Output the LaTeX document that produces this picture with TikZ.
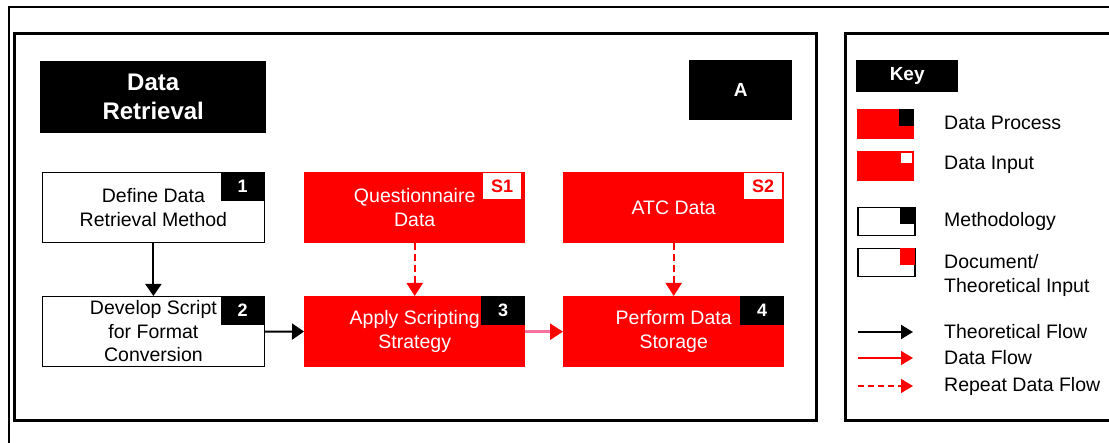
\documentclass[tikz,border=0pt]{standalone}
\usepackage{fontspec}
\setmainfont{Liberation Sans}
\usetikzlibrary{arrows.meta}

\definecolor{procred}{RGB}{255,0,0}
\definecolor{flowpink}{RGB}{250,110,160}

\tikzset{
	panel/.style={draw, line width=3pt},
	txt/.style={font=\fontsize{19.5}{23.5}\selectfont, align=center},
	procbox/.style={txt, fill=procred, text=white, minimum width=221pt, minimum height=71pt, inner sep=0pt, anchor=north west},
	methbox/.style={txt, draw, thick, fill=white, minimum width=222pt, minimum height=70pt, inner sep=0pt, anchor=north west},
	badge/.style={fill=black, text=white, font=\fontsize{18}{20}\selectfont\bfseries, minimum width=44pt, minimum height=29pt, inner sep=0pt, anchor=north east},
	inbadge/.style={fill=white, text=procred, font=\fontsize{18}{20}\selectfont\bfseries, minimum width=38pt, minimum height=26pt, inner sep=0pt, anchor=north east},
	titlebox/.style={fill=black, text=white, font=\fontsize{24}{29}\selectfont\bfseries, align=center, inner sep=0pt, anchor=north west},
	keytxt/.style={font=\fontsize{19.5}{24}\selectfont, align=left, anchor=west, inner sep=0pt},
	swatch/.style={minimum width=57pt, minimum height=30pt, inner sep=0pt, anchor=north west},
	corner/.style={minimum width=15pt, minimum height=17pt, inner sep=0pt, anchor=north east},
	theoflow/.style={line width=2pt, -{Triangle[length=12pt,width=16pt]}},
	dataflow/.style={line width=2.5pt, flowpink, -{Triangle[length=13pt,width=16pt,color=procred]}},
	repeatflow/.style={line width=2pt, procred, dash pattern=on 7pt off 4pt, -{Triangle[length=13pt,width=16pt]}}
}

\begin{document}
\begin{tikzpicture}[x=1pt, y=-1pt]
	\fill [white] (0,0) rectangle (1109,443);
	\clip (0,0) rectangle (1109,443);

	\draw [line width=2pt] (9,460) -- (9,7) -- (1130,7);
	\draw [panel] (14,34) rectangle (816,421);
	\draw [panel] (845,34) rectangle (1130,421);

	\node [titlebox, minimum width=226pt, minimum height=72pt] (title) at (40,61) {Data\\Retrieval};
	\node [titlebox, minimum width=103pt, minimum height=60pt, font=\fontsize{19}{20}\selectfont\bfseries] (panelid) at (689,60) {A};

	\node [methbox] (define) at (42,172) {Define Data\\Retrieval Method};
	\node [badge] at (define.north east) {1};
	\node [methbox] (develop) at (42,296) {Develop Script\\for Format\\Conversion};
	\node [badge] at (develop.north east) {2};

	\node [procbox] (quest) at (304,172) {Questionnaire\\Data};
	\node [inbadge] at ([xshift=-4pt, yshift=-1pt]quest.north east) {S1};
	\node [procbox] (apply) at (304,296) {Apply Scripting\\Strategy};
	\node [badge] at (apply.north east) {3};

	\node [procbox] (atc) at (563,172) {ATC Data};
	\node [inbadge] at ([xshift=-2pt, yshift=-1pt]atc.north east) {S2};
	\node [procbox] (store) at (563,296) {Perform Data\\Storage};
	\node [badge] at (store.north east) {4};

	\draw [theoflow] (define) -- (develop);
	\draw [theoflow] (develop) -- (apply);
	\draw [repeatflow] (quest) -- (apply);
	\draw [repeatflow] (atc) -- (store);
	\draw [dataflow] (apply) -- (store);

	% key
	\node [titlebox, minimum width=102pt, minimum height=32pt, font=\fontsize{19}{20}\selectfont\bfseries] (key) at (856,60) {Key};

	\node [swatch, fill=procred] (kproc) at (857,109) {};
	\node [corner, fill=black] at (kproc.north east) {};
	\node [swatch, fill=procred] (kinput) at (857,151) {};
	\node [corner, fill=white, minimum width=11pt, minimum height=10pt] at ([xshift=-2pt, yshift=-2pt]kinput.north east) {};
	\node [swatch, draw, line width=1.5pt, minimum height=28pt] (kmeth) at (857,207) {};
	\node [corner, fill=black] at (kmeth.north east) {};
	\node [swatch, draw, line width=1.5pt, minimum height=28pt] (kdoc) at (857,248) {};
	\node [corner, fill=procred] at (kdoc.north east) {};

	\node [keytxt] (lproc) at (944,123) {Data Process};
	\node [keytxt] (linput) at (944,165) {Data Input};
	\node [keytxt] (lmeth) at (944,221) {Methodology};
	\node [keytxt] (ldoc) at (944,275) {Document/\\Theoretical Input};

	\coordinate (ka1) at (858,332); \coordinate (kb1) at (913,332);
	\coordinate (ka2) at (858,358); \coordinate (kb2) at (913,358);
	\coordinate (ka3) at (858,386); \coordinate (kb3) at (913,386);
	\draw [line width=2pt, -{Triangle[length=12pt,width=14pt]}] (ka1) -- (kb1);
	\draw [line width=1.5pt, procred, -{Triangle[length=12pt,width=14pt]}] (ka2) -- (kb2);
	\draw [line width=1.5pt, procred, dash pattern=on 6pt off 4pt, -{Triangle[length=12pt,width=14pt]}] (ka3) -- (kb3);

	\node [keytxt] (ltheo) at (944,332) {Theoretical Flow};
	\node [keytxt] (ldata) at (944,358) {Data Flow};
	\node [keytxt] (lrep) at (944,386) {Repeat Data Flow};
\end{tikzpicture}
\end{document}
